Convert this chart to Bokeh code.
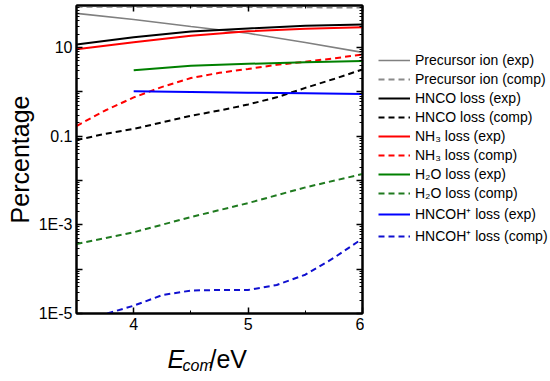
from bokeh.plotting import figure
from bokeh.models import (FixedTicker, CustomJSTickFormatter, LogAxis, LinearAxis,
                          Legend, LegendItem, Label, Range1d)
from bokeh.layouts import row, column
from bokeh.embed import file_html
from bokeh.resources import INLINE

# ---------------- data ----------------
energy_exp = [3.5, 4.0, 4.5, 5.0, 5.5, 6.0]
precursor_exp = [59, 43, 30, 21, 13, 7.8]
precursor_comp = [84, 83, 83, 82, 81, 80]
hnco_exp = [11.7, 17, 23, 27, 31, 33]
nh3_exp = [9.2, 13.2, 18.6, 23.3, 26.5, 28.7]

energy_exp_late = [4.0, 4.5, 5.0, 5.5, 6.0]
h2o_exp = [3.07, 3.87, 4.3, 4.65, 5.0]
hncoh_exp = [1.03, 1.0, 0.96, 0.93, 0.90]

energy_comp = [3.5, 3.75, 4.0, 4.25, 4.5, 4.75, 5.0, 5.25, 5.5, 5.75, 6.0]
hnco_comp = [0.082, 0.113, 0.146, 0.206, 0.29, 0.38, 0.52, 0.755, 1.23, 1.96, 3.2]
nh3_comp = [0.17, 0.38, 0.75, 1.3, 2.05, 2.7, 3.3, 4.07, 4.8, 5.7, 7.0]

energy_h2o_comp = [3.5, 4.0, 4.5, 5.0, 5.5, 6.0]
h2o_comp = [3.7e-4, 6.8e-4, 1.5e-3, 3.1e-3, 7e-3, 1.4e-2]

energy_hncoh_comp = [3.77, 4.0, 4.25, 4.5, 4.75, 5.0, 5.25, 5.5, 5.75, 6.0]
hncoh_comp = [1e-5, 1.5e-5, 2.6e-5, 3.3e-5, 3.4e-5, 3.4e-5, 4.4e-5, 7.5e-5, 1.8e-4, 4.9e-4]

series_labels = ["Precursor ion (exp)", "Precursor ion (comp)",
                 "HNCO loss (exp)", "HNCO loss (comp)",
                 "NH\u2083 loss (exp)", "NH\u2083 loss (comp)",
                 "H\u2082O loss (exp)", "H\u2082O loss (comp)",
                 "HNCOH\u207a loss (exp)", "HNCOH\u207a loss (comp)"]

x_ticks = [4, 5, 6]
x_tick_labels = ["4", "5", "6"]
y_ticks = [1e-5, 1e-4, 1e-3, 1e-2, 1e-1, 1, 10]
y_tick_labels = ["1E-5", "", "1E-3", "", "0.1", "", "10"]
y_title = "Percentage"
x_title_parts = ["E", "com", "/eV"]

# ---------------- layout ----------------
FONT = "Liberation Sans"
W, H = 550, 381
FL, FT, FR, FB = 76, 5, 362, 313      # frame edges in page pixels
MAIN_W = FR + 2
MAIN_H = FB + 23

p = figure(width=MAIN_W, height=MAIN_H, output_backend="svg", toolbar_location=None,
           y_axis_type="log", x_range=Range1d(3.5, 6.0), y_range=Range1d(1e-5, 89),
           min_border_left=FL, min_border_right=MAIN_W - FR,
           min_border_top=FT, min_border_bottom=MAIN_H - FB)
p.xgrid.visible = False
p.ygrid.visible = False
p.outline_line_color = "black"
p.outline_line_width = 2
p.background_fill_color = "white"
p.border_fill_color = "white"

styles = [
    ("#808080", "solid", 1.6),
    ("#8a8a8a", "6 4", 2),
    ("black", "solid", 2),
    ("black", "6 4", 2),
    ("#ff0000", "solid", 2),
    ("#ff0000", "6 4", 2),
    ("#008000", "solid", 2),
    ("#1f7a1f", "6 4", 2),
    ("#0000ff", "solid", 2),
    ("#1010d0", "6 4", 2),
]
series_data = [
    (energy_exp, precursor_exp), (energy_exp, precursor_comp),
    (energy_exp, hnco_exp), (energy_comp, hnco_comp),
    (energy_exp, nh3_exp), (energy_comp, nh3_comp),
    (energy_exp_late, h2o_exp), (energy_h2o_comp, h2o_comp),
    (energy_exp_late, hncoh_exp), (energy_hncoh_comp, hncoh_comp),
]
for (xs, ys), (col, dash, lw) in zip(series_data, styles):
    p.line(xs, ys, line_color=col, line_dash=dash, line_width=lw)

minor_y = [m * 10.0 ** e for e in range(-5, 2) for m in range(2, 10)]
minor_x = [3.5, 4.5, 5.5]
BLANK = "return '';"

def style_axis(ax):
    ax.axis_line_width = 2
    ax.axis_line_color = "black"
    ax.major_tick_in = 6
    ax.major_tick_out = 0
    ax.minor_tick_in = 3
    ax.minor_tick_out = 0
    ax.major_tick_line_width = 1.5
    ax.minor_tick_line_width = 1
    ax.major_label_text_font = FONT
    ax.major_label_text_font_size = "16px"
    ax.major_label_text_color = "black"
    ax.major_label_standoff = 4

xa = p.xaxis[0]
xa.ticker = FixedTicker(ticks=x_ticks, minor_ticks=minor_x)
xa.formatter = CustomJSTickFormatter(args=dict(vals=x_ticks, labs=x_tick_labels), code="""
for (let i = 0; i < vals.length; i++) { if (Math.abs(vals[i] - tick) < 1e-9) return labs[i]; }
return "";""")
style_axis(xa)

ya = p.yaxis[0]
ya.ticker = FixedTicker(ticks=y_ticks, minor_ticks=minor_y)
ya.formatter = CustomJSTickFormatter(args=dict(vals=y_ticks, labs=y_tick_labels), code="""
for (let i = 0; i < vals.length; i++) { if (Math.abs(Math.log10(vals[i]) - Math.log10(tick)) < 1e-6) return labs[i]; }
return "";""")
style_axis(ya)
ya.axis_label = y_title
ya.axis_label_text_font = FONT
ya.axis_label_text_font_size = "25px"
ya.axis_label_text_font_style = "normal"
ya.axis_label_text_color = "black"
ya.axis_label_standoff = 2

# mirrored axes (ticks only) on the right and top
ra = LogAxis(ticker=FixedTicker(ticks=y_ticks, minor_ticks=minor_y),
             formatter=CustomJSTickFormatter(code=BLANK))
style_axis(ra)
ra.major_label_standoff = 0
ra.major_label_text_font_size = "1px"
p.add_layout(ra, "right")

ta = LinearAxis(ticker=FixedTicker(ticks=x_ticks, minor_ticks=minor_x),
                formatter=CustomJSTickFormatter(code=BLANK))
style_axis(ta)
ta.major_label_standoff = 0
ta.major_label_text_font_size = "1px"
p.add_layout(ta, "above")

def blank_figure(w, h):
    f = figure(width=w, height=h, output_backend="svg", toolbar_location=None,
               x_range=Range1d(0, 1), y_range=Range1d(0, 1),
               min_border=0, x_axis_location=None, y_axis_location=None)
    f.xgrid.visible = False
    f.ygrid.visible = False
    f.outline_line_color = None
    f.background_fill_color = "white"
    f.border_fill_color = "white"
    return f

# ---------------- x-axis title strip: E (italic) + com (italic subscript) + /eV ----------------
XT_H = H - MAIN_H
xt = blank_figure(MAIN_W, XT_H)
X_SHIFT, Y_SHIFT = FL, 8          # frame of the strip is aligned with the main frame
title_specs = [  # (text, left page x, baseline page y, size, style)
    (x_title_parts[0], 167, 366, 25, "italic"),
    (x_title_parts[1], 182, 373, 16, "italic"),
    (x_title_parts[2], 209, 366, 25, "normal"),
]
for text, lx, by, size, style in title_specs:
    xt.add_layout(Label(x=lx - X_SHIFT, y=H - by + Y_SHIFT, x_units="screen", y_units="screen",
                        text=text, text_font=FONT, text_font_size=f"{size}px",
                        text_font_style=style, text_baseline="alphabetic",
                        text_align="left", text_color="black"))

# ---------------- legend panel ----------------
LEG_W = W - MAIN_W
lf = blank_figure(LEG_W, H)
# same series, drawn outside this panel's visible range: only their legend glyphs show
leg_renderers = [lf.line(xs, ys, line_color=col, line_dash=dash, line_width=lw)
                 for (xs, ys), (col, dash, lw) in zip(series_data, styles)]
legend = Legend(items=[LegendItem(label=lab, renderers=[r]) for lab, r in zip(series_labels, leg_renderers)],
                location=(378 - MAIN_W, 136), padding=0, margin=0, spacing=3,
                glyph_width=32, glyph_height=16, label_height=16, label_standoff=5,
                label_text_font=FONT, label_text_font_size="14px", label_text_color="black",
                background_fill_alpha=0, border_line_color=None)
lf.add_layout(legend, "center")

layout = row(column(p, xt, spacing=0), lf, spacing=0)
open("out.html", "w").write(file_html(layout, INLINE))
